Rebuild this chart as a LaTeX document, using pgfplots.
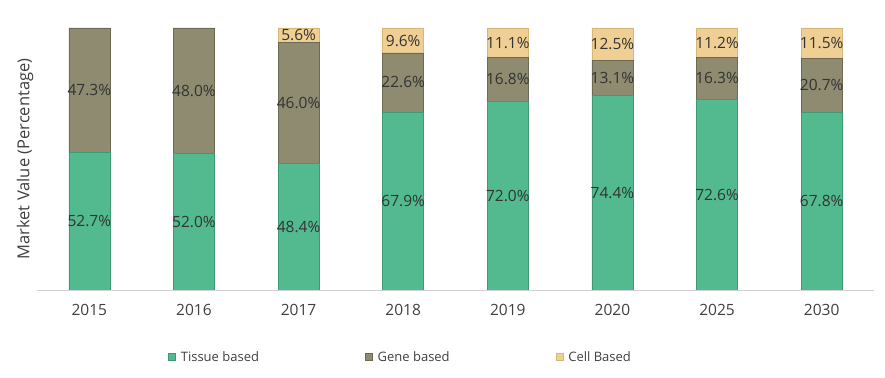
\documentclass[border=0pt]{standalone}
\usepackage{pgfplots}
\pgfplotsset{compat=1.18}
\usepackage{fontspec}
\setmainfont{Open Sans}
\definecolor{tissue}{HTML}{52BA8E}
\definecolor{tissueE}{HTML}{3E9A72}
\definecolor{gene}{HTML}{8E8B70}
\definecolor{geneE}{HTML}{6C6A53}
\definecolor{cell}{HTML}{EFCF93}
\definecolor{cellE}{HTML}{D6B776}
\definecolor{txt}{HTML}{333333}
\definecolor{lbl}{HTML}{404040}
\begin{document}
\begin{tikzpicture}
\path[use as bounding box] (0,0) rectangle (885pt,377pt);
\begin{axis}[
  at={(37pt,87pt)}, anchor=south west,
  scale only axis, width=837pt, height=262pt,
  xmin=-0.5, xmax=7.5, ymin=0, ymax=100,
  ybar stacked, bar width=41pt,
  axis lines*=left,
  y axis line style={draw=none},
  x axis line style={draw=black!18, line width=0.8pt},
  ytick=\empty,
  xtick={0,...,7},
  xticklabels={2015,2016,2017,2018,2019,2020,2025,2030},
  xtick style={draw=none},
  xticklabel style={font=\fontsize{15.5}{18}\selectfont, text=lbl, yshift=-11pt},
  ylabel={Market Value (Percentage)},
  ylabel style={at={(axis description cs:-0.0143,0.5)}, anchor=center, font=\fontsize{16.5}{19}\selectfont, text=lbl},
  legend columns=3,
  legend style={at={(axis description cs:0.153,-0.256)}, anchor=west, draw=none, fill=none,
    font=\fontsize{13}{16}\selectfont, text=lbl,
    /tikz/every odd column/.append style={column sep=3pt},
    /tikz/every even column/.append style={column sep=104pt}},
  legend image code/.code={\draw[#1, line width=0.6pt] (0pt,-3.5pt) rectangle (7pt,3.5pt);},
]
\addplot[fill=tissue, draw=tissueE, line width=0.6pt] coordinates {(0,52.7) (1,52.0) (2,48.4) (3,67.9) (4,72.0) (5,74.4) (6,72.6) (7,67.8)};
\addplot[fill=gene, draw=geneE, line width=0.6pt] coordinates {(0,47.3) (1,48.0) (2,46.0) (3,22.6) (4,16.8) (5,13.1) (6,16.3) (7,20.7)};
\addplot[fill=cell, draw=cellE, line width=0.6pt] coordinates {(0,0) (1,0) (2,5.6) (3,9.5) (4,11.2) (5,12.5) (6,11.1) (7,11.5)};
\legend{Tissue based, Gene based, Cell Based}
\end{axis}
\begin{axis}[
  at={(37pt,87pt)}, anchor=south west,
  scale only axis, width=837pt, height=262pt,
  xmin=-0.5, xmax=7.5, ymin=0, ymax=100,
  hide axis, clip=false,
  nodes near coords, point meta=explicit symbolic,
  nodes near coords style={anchor=center, font=\fontsize{15.5}{18}\selectfont, text=txt},
]
\addplot[draw=none, mark=none] coordinates {(0,26.35)[52.7\%] (1,26.0)[52.0\%] (2,24.2)[48.4\%] (3,33.95)[67.9\%] (4,36.0)[72.0\%] (5,37.2)[74.4\%] (6,36.3)[72.6\%] (7,33.9)[67.8\%]};
\addplot[draw=none, mark=none] coordinates {(0,76.35)[47.3\%] (1,76.0)[48.0\%] (2,71.4)[46.0\%] (3,79.2)[22.6\%] (4,80.4)[16.8\%] (5,81.0)[13.1\%] (6,80.75)[16.3\%] (7,78.15)[20.7\%]};
\addplot[draw=none, mark=none] coordinates {(2,97.2)[5.6\%] (3,95.2)[9.6\%] (4,94.45)[11.1\%] (5,93.75)[12.5\%] (6,94.4)[11.2\%] (7,94.25)[11.5\%]};
\end{axis}
\end{tikzpicture}
\end{document}
